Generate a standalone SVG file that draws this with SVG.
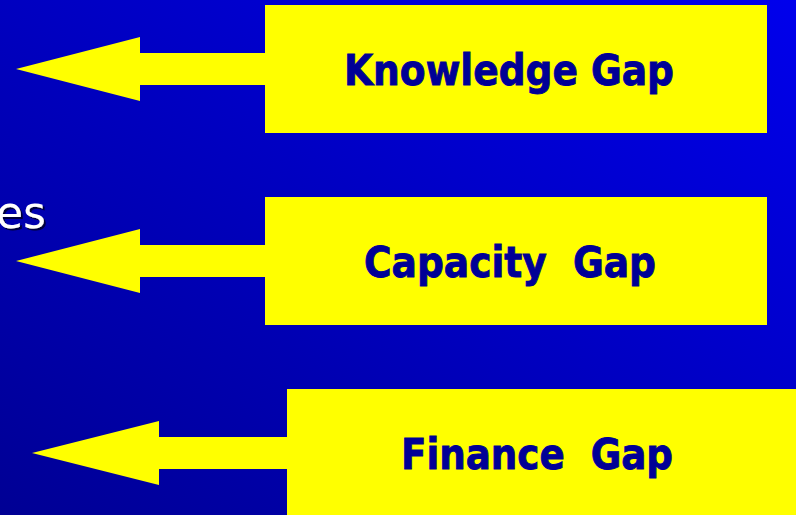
<svg xmlns="http://www.w3.org/2000/svg" width="796" height="515" viewBox="0 0 796 515">
  <defs>
    <linearGradient id="bg" x1="0" y1="1" x2="1" y2="0">
      <stop offset="0" stop-color="#000094"/>
      <stop offset="1" stop-color="#0000ec"/>
    </linearGradient>
    <filter id="shadow" x="-20%" y="-20%" width="150%" height="150%">
      <feDropShadow dx="2" dy="2" stdDeviation="0.6" flood-color="#000033" flood-opacity="0.9"/>
    </filter>
  </defs>
  <style>
    .box { fill: #ffff00; }
    .arrow { fill: #ffff00; }
    .label { font-family: "DejaVu Sans", Verdana, sans-serif; font-weight: bold; font-size: 42px; fill: #000096; stroke: #000096; stroke-width: 0.9; white-space: pre; }
    .side { font-family: "DejaVu Sans", Verdana, sans-serif; font-size: 44px; fill: #ffffff; }
  </style>
  <rect x="0" y="0" width="796" height="515" fill="url(#bg)"/>
  <text class="side" x="46" y="228" text-anchor="end" filter="url(#shadow)">es</text>
  <g id="connectors">
    <polygon class="arrow" points="16,69 140,37 140,53 267,53 267,85 140,85 140,101"/>
    <polygon class="arrow" points="16,261 140,229 140,245 267,245 267,277 140,277 140,293"/>
    <polygon class="arrow" points="32,453 159,421 159,437 289,437 289,469 159,469 159,485"/>
  </g>
  <g id="knowledge-gap">
    <rect class="box" x="265" y="5" width="502" height="128"/>
    <text class="label" x="344" y="85" textLength="330" lengthAdjust="spacingAndGlyphs">Knowledge Gap</text>
  </g>
  <g id="capacity-gap">
    <rect class="box" x="265" y="197" width="502" height="128"/>
    <text class="label" x="364" y="277" textLength="292" lengthAdjust="spacingAndGlyphs">Capacity  Gap</text>
  </g>
  <g id="finance-gap">
    <rect class="box" x="287" y="389" width="509" height="126"/>
    <text class="label" x="401" y="469" textLength="272" lengthAdjust="spacingAndGlyphs">Finance  Gap</text>
  </g>
</svg>
